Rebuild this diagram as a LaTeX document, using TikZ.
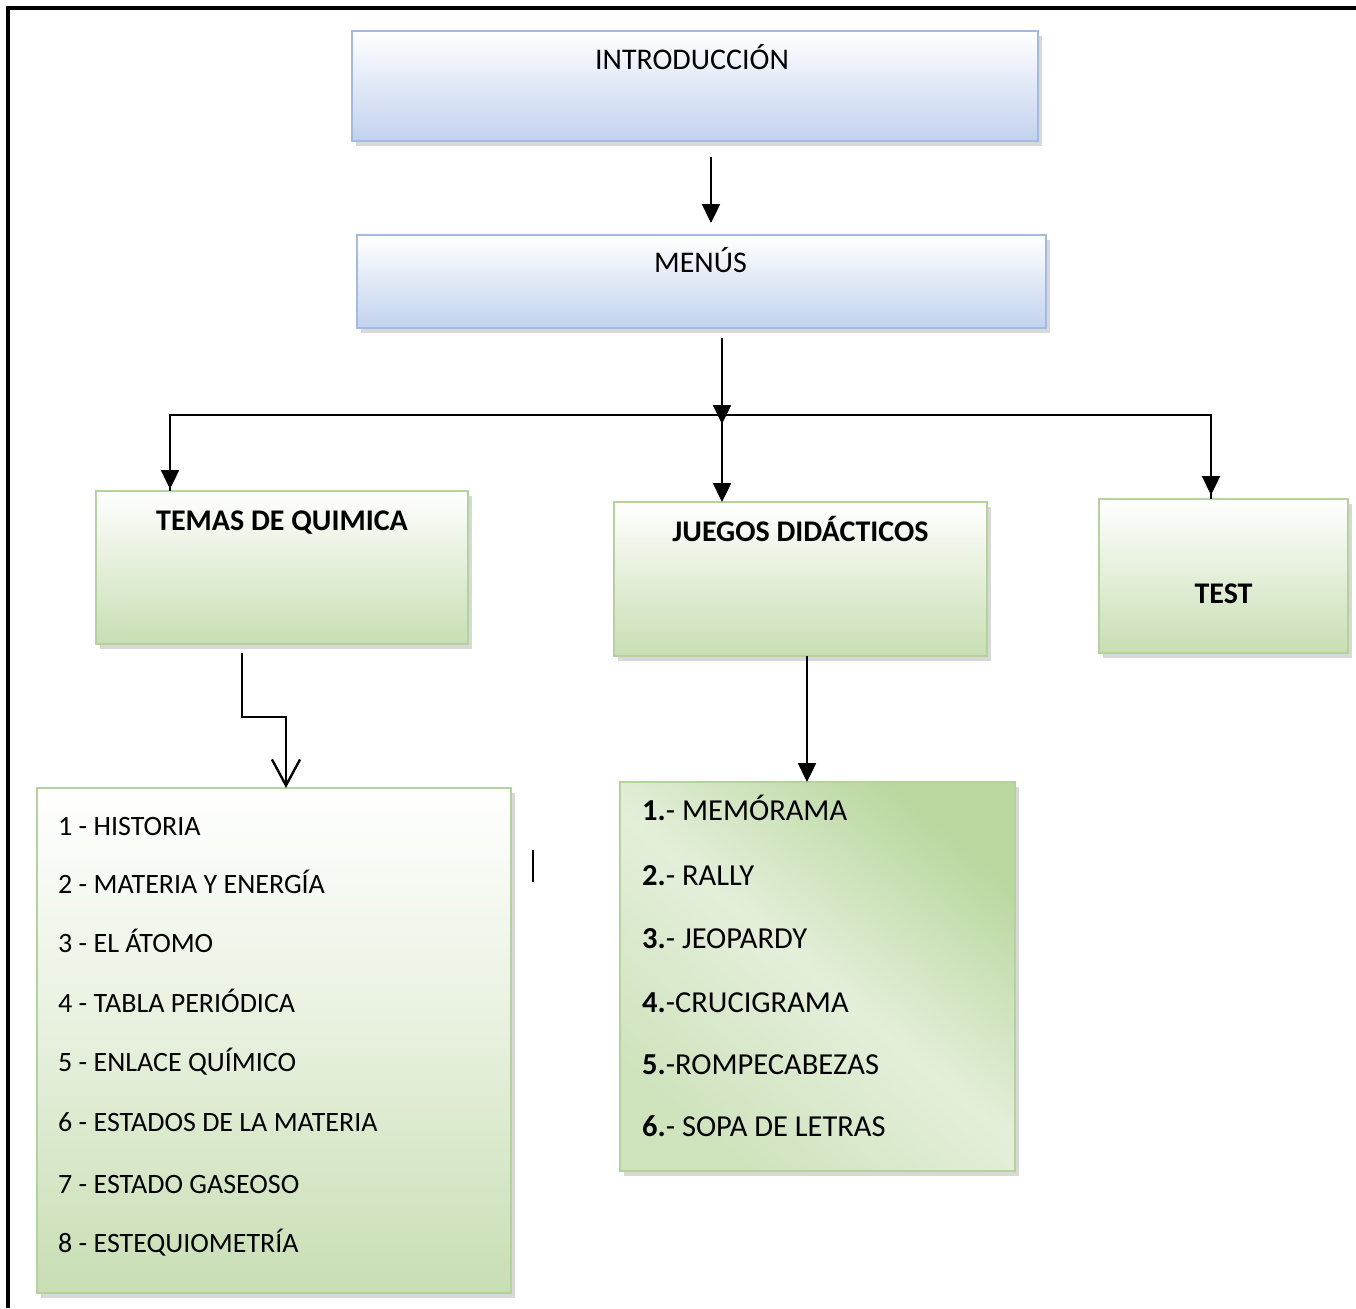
\documentclass[tikz,border=0pt]{standalone}
\usepackage{fontspec}
\setmainfont{Carlito}
\usetikzlibrary{arrows.meta,shadows,calc}
\definecolor{blueB}{HTML}{A3BBE3}
\definecolor{blueF}{HTML}{C2D2EE}
\definecolor{greenB}{HTML}{B4D29C}
\definecolor{greenF}{HTML}{C8DEB3}
\definecolor{jgD}{HTML}{B9D79F}
\definecolor{jgM}{HTML}{E4EFDA}
\definecolor{jgL}{HTML}{CFE3BD}
\tikzset{
  diabox/.style={draw, line width=1.8pt, anchor=north west, inner sep=0pt, outer sep=0pt,
    drop shadow={shadow xshift=4pt, shadow yshift=-5pt, opacity=0.3}},
  bluebox/.style={diabox, draw=blueB, top color=white, bottom color=blueF},
  greenbox/.style={diabox, draw=greenB, top color=white, bottom color=greenF},
  headtxt/.style={font=\fontsize{30}{36}\selectfont, anchor=base, inner sep=0pt},
  bheadtxt/.style={font=\bfseries\fontsize{30}{36}\selectfont, anchor=base, inner sep=0pt},
  listitem/.style={font=\fontsize{28}{34}\selectfont, anchor=base west, inner sep=0pt},
  jitem/.style={font=\fontsize{30.5}{36}\selectfont, anchor=base west, inner sep=0pt},
  conn/.style={line width=2.4pt, draw=black},
  arr/.style={conn, -{Triangle[length=19pt,width=18pt]}},
  oarr/.style={conn, -{Straight Barb[length=26pt,width=28pt,line width=2.4pt]}},
}
\begin{document}
\begin{tikzpicture}[x=1pt,y=-1pt]
\useasboundingbox (0,0) rectangle (1356,1308);
\fill[white] (0,0) rectangle (1356,1308);
\draw[line width=3.2pt] (8,1308) -- (8,8) -- (1356,8);

% boxes
\node[bluebox, minimum width=686pt, minimum height=110pt] (intro) at (352,31) {};
\node[bluebox, minimum width=689pt, minimum height=93pt] (menus) at (357,235) {};
\node[greenbox, minimum width=372pt, minimum height=153pt] (temas) at (96,491) {};
\node[greenbox, minimum width=373pt, minimum height=154pt] (juegos) at (614,502) {};
\node[greenbox, minimum width=249pt, minimum height=154pt] (test) at (1099,499) {};
\node[diabox, draw=greenB, top color=white, bottom color=greenF, middle color=white!55!greenF,
      minimum width=474pt, minimum height=505pt] (tlist) at (37,788) {};
\node[diabox, draw=greenB, top color=jgD, bottom color=jgL, middle color=jgM, shading angle=-40,
      minimum width=395pt, minimum height=389pt] (jlist) at (620,782) {};

% titles
\node[headtxt] (introT) at ($(intro.north)+(-3,39)$) {INTRODUCCIÓN};
\node[headtxt] (menusT) at ($(menus.north)+(-1,37)$) {MENÚS};
\node[bheadtxt] (temasT) at ($(temas.north)+(0,39)$) {TEMAS DE QUIMICA};
\node[bheadtxt] (juegosT) at ($(juegos.north)+(0,39)$) {JUEGOS DIDÁCTICOS};
\node[bheadtxt] (testT) at ($(test.north)+(0,104)$) {TEST};

% temas list
\node[listitem] (t1) at (58,835) {1 - HISTORIA};
\node[listitem] (t2) at (58,893) {2 - MATERIA Y ENERGÍA};
\node[listitem] (t3) at (58,952) {3 - EL ÁTOMO};
\node[listitem] (t4) at (58,1012) {4 - TABLA PERIÓDICA};
\node[listitem] (t5) at (58,1071) {5 - ENLACE QUÍMICO};
\node[listitem] (t6) at (58,1131) {6 - ESTADOS DE LA MATERIA};
\node[listitem] (t7) at (58,1193) {7 - ESTADO GASEOSO};
\node[listitem] (t8) at (58,1252) {8 - ESTEQUIOMETRÍA};

% juegos list
\node[jitem] (j1) at (642,820) {\textbf{1.}- MEMÓRAMA};
\node[jitem] (j2) at (642,885) {\textbf{2.}- RALLY};
\node[jitem] (j3) at (642,948) {\textbf{3.}- JEOPARDY};
\node[jitem] (j4) at (642,1012) {\textbf{4.}-CRUCIGRAMA};
\node[jitem] (j5) at (642,1074) {\textbf{5.}-ROMPECABEZAS};
\node[jitem] (j6) at (642,1136) {\textbf{6.}- SOPA DE LETRAS};

% stray cursor mark
\draw[line width=2pt] (533,850) -- (533,882);

% connectors
\coordinate (a) at (711,0);
\coordinate (j) at (722,415);
\coordinate (e1) at (242,717);
\coordinate (e2) at (286,717);
\coordinate (g) at (807,0);

\draw[arr, shorten <=16pt, shorten >=12pt] (intro.south -| a) -- (menus.north -| a);
\draw[conn] (j) -| ($(temas.north west)+(74,0)$);
\draw[conn] (j) -| (test.north -| 1211,0);
\draw[arr, shorten >=1pt] ($(j)+(-552,0)$) -- ($(temas.north west)+(74,-1)$);
\draw[arr, shorten >=4pt] ($(j)+(489,0)$) -- (test.north -| 1211,0);
\draw[arr, shorten <=10pt, shorten >=-9pt] (menus.south -| j) -- (j);
\draw[arr] (j) -- (juegos.north -| j);
\draw[oarr] ($(temas.south -| e1)+(0,9)$) -- (e1) -- (e2) -- (tlist.north -| e2);
\draw[arr] (juegos.south -| g) -- (jlist.north -| g);
\end{tikzpicture}
\end{document}
